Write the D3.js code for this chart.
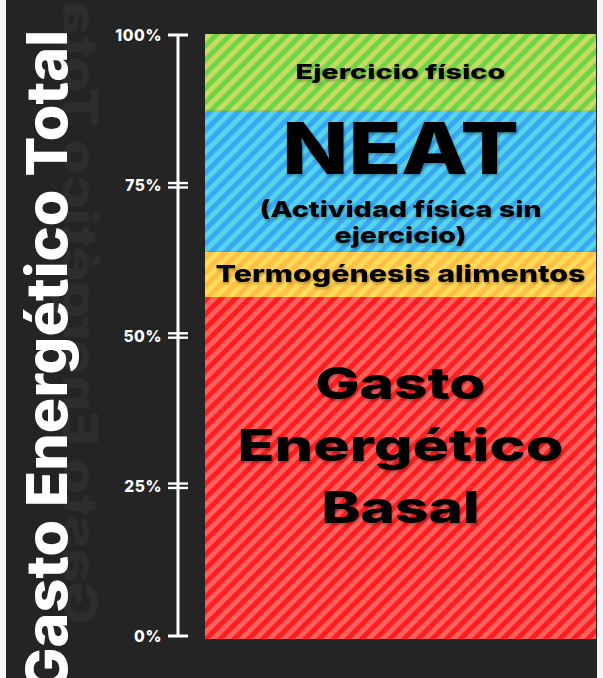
<!DOCTYPE html>
<html><head><meta charset="utf-8">
<script src="https://cdn.jsdelivr.net/npm/d3@7"></script>
<style>
html,body{margin:0;padding:0;background:#fff;}
svg{display:block;}
</style></head>
<body>
<script>
// ---- data ----
const categories = ["Gasto Energético Basal", "Termogénesis alimentos", "NEAT", "Ejercicio físico"];
const values = [56.5, 7.5, 23.3, 12.7];
const labelLines = [
  ["Gasto", "Energético", "Basal"],
  ["Termogénesis alimentos"],
  ["NEAT", "(Actividad física sin", "ejercicio)"],
  ["Ejercicio físico"]
];
const stripeColors = [
  ["#ff1e1e", "#ff6060"],
  ["#ffbe48", "#ffdc58"],
  ["#38a8f2", "#55d4ec"],
  ["#70d44a", "#c6dc5e"]
];
const tickValues = [0, 25, 50, 75, 100];
const tickLabels = ["0%", "25%", "50%", "75%", "100%"];
const axisTitle = "Gasto Energético Total";

// ---- layout ----
const W = 603, H = 678;
const font = "Inter, 'Open Sans', sans-serif";
const svg = d3.select("body").append("svg").attr("width", W).attr("height", H);

// frame
svg.append("rect").attr("width", W).attr("height", H).attr("fill", "#f4f4f4");
svg.append("rect").attr("x", 6).attr("y", 0).attr("width", 591).attr("height", H).attr("fill", "#242424");

const defs = svg.append("defs");
const P = 10;
stripeColors.forEach((c, i) => {
  const p = defs.append("pattern").attr("id", "hatch" + i)
    .attr("patternUnits", "userSpaceOnUse").attr("width", P).attr("height", P)
    .attr("patternTransform", "rotate(45)");
  p.append("rect").attr("width", P).attr("height", P).attr("fill", c[0]);
  p.append("rect").attr("width", P / 2).attr("height", P).attr("fill", c[1]);
});
const sh = defs.append("filter").attr("id", "shadow").attr("x", "-10%").attr("y", "-20%").attr("width", "120%").attr("height", "140%");
sh.append("feDropShadow").attr("dx", 1).attr("dy", 2).attr("stdDeviation", 1.6).attr("flood-color", "#000").attr("flood-opacity", 0.3);

// axis title + ghost reflection
svg.append("text")
  .attr("transform", "translate(63,625) scale(-1,1) rotate(-90)")
  .attr("font-family", font).attr("font-weight", 800).attr("font-size", 48)
  .attr("fill", "#2d2d2d")
  .attr("textLength", 640).attr("lengthAdjust", "spacingAndGlyphs")
  .text(axisTitle);
svg.append("text")
  .attr("transform", "translate(67,692) rotate(-90)")
  .attr("font-family", font).attr("font-weight", 800).attr("font-size", 57)
  .attr("fill", "#ffffff")
  .attr("textLength", 662).attr("lengthAdjust", "spacingAndGlyphs")
  .text(axisTitle);

// scales
const yAxis = d3.scaleLinear().domain([0, 100]).range([636, 35]);
const yBar = d3.scaleLinear().domain([0, 100]).range([639, 34]);
const x0 = 205, x1 = 596;

// axis
const ag = svg.append("g").attr("transform", "translate(178,0)");
ag.call(d3.axisLeft(yAxis).tickValues(tickValues).tickSize(0).tickPadding(16)
  .tickFormat((d, i) => tickLabels[i]));
ag.select(".domain").remove();
ag.selectAll("text").attr("font-family", font).attr("font-weight", 800)
  .attr("font-size", 15.5).attr("letter-spacing", 0.6).attr("fill", "#fff").attr("dy", "0.36em");
ag.append("line").attr("y1", yAxis(100)).attr("y2", yAxis(0))
  .attr("stroke", "#fff").attr("stroke-width", 3);
tickValues.forEach(v => {
  const ends = (v === 0 || v === 100);
  const offs = ends ? [0] : [-2.2, 2.2];
  offs.forEach(o => {
    ag.append("line").attr("x1", -10).attr("x2", 10)
      .attr("y1", yAxis(v) + o).attr("y2", yAxis(v) + o)
      .attr("stroke", "#fff").attr("stroke-width", ends ? 3 : 2.4);
  });
});

// stacked bar
let acc = 0;
const segs = values.map((v, i) => { const s = { i, y0: acc, y1: acc + v }; acc += v; return s; });
svg.append("g").selectAll("rect").data(segs).join("rect")
  .attr("x", x0).attr("width", x1 - x0)
  .attr("y", d => yBar(d.y1)).attr("height", d => yBar(d.y0) - yBar(d.y1))
  .attr("fill", d => "url(#hatch" + d.i + ")");

// labels
const cx = (x0 + x1) / 2;
const lg = svg.append("g").attr("font-family", font).attr("font-weight", 800)
  .attr("fill", "#000").attr("text-anchor", "middle").attr("filter", "url(#shadow)");
const labelSpec = [
  [{ s: 44, dy: -69, L: 170 }, { s: 44, dy: -7, L: 326 }, { s: 44, dy: 55, L: 158 }],
  [{ s: 23, dy: 8, L: 370 }],
  [{ s: 72, dy: -3, L: 237 }, { s: 22, dy: 40, L: 282 }, { s: 22, dy: 66, L: 132 }],
  [{ s: 20, dy: 7, L: 210 }]
];
segs.forEach((d, i) => {
  const mid = yBar((d.y0 + d.y1) / 2);
  labelLines[i].forEach((t, j) => {
    const sp = labelSpec[i][j];
    const base = i === 2 ? yBar(d.y1) : mid;
    const yy = i === 2 ? base + 66 + sp.dy : base + sp.dy;
    lg.append("text").attr("x", cx).attr("y", yy)
      .attr("font-size", sp.s)
      .attr("textLength", sp.L).attr("lengthAdjust", "spacingAndGlyphs")
      .text(t);
  });
});
</script>
</body></html>
